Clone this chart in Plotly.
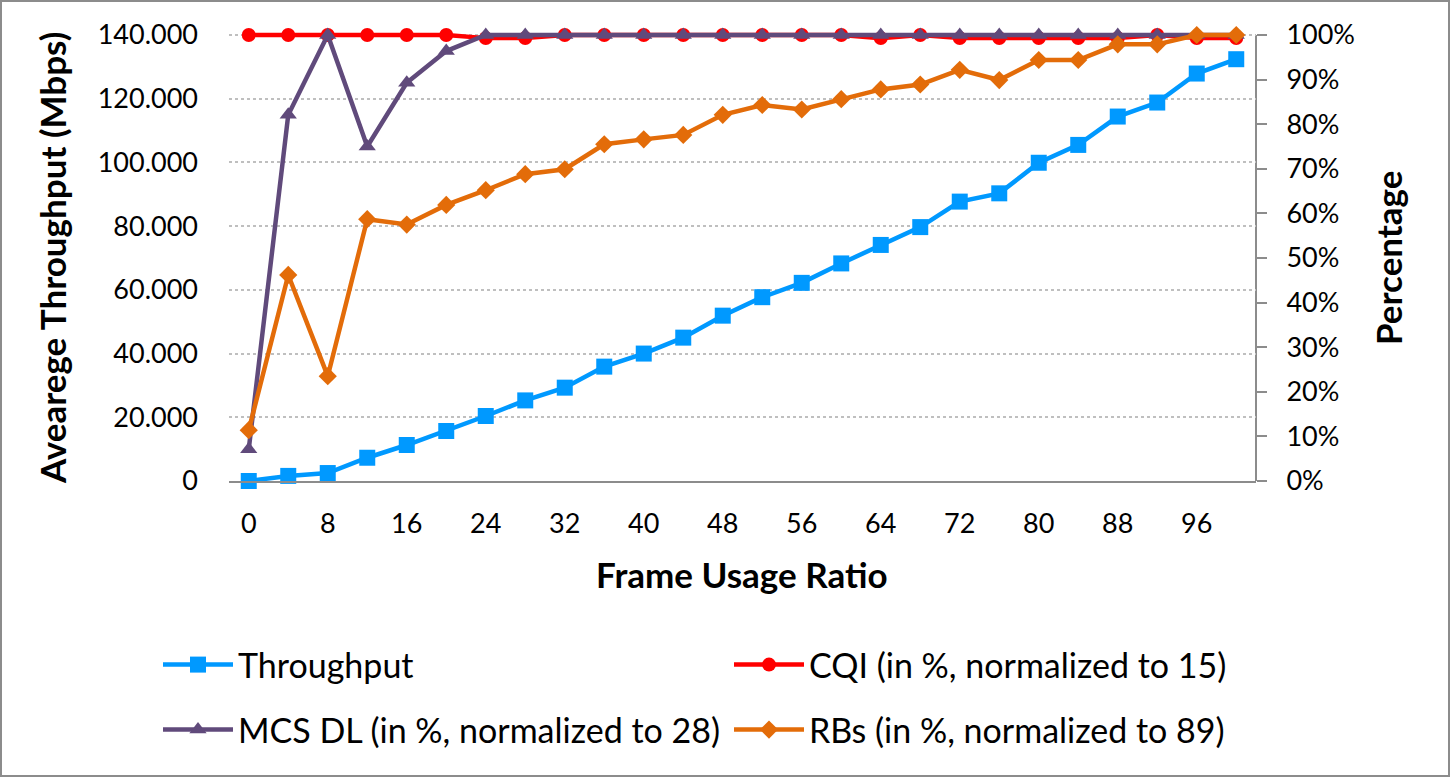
import plotly.graph_objects as go

frame_usage = [0, 4, 8, 12, 16, 20, 24, 28, 32, 36, 40, 44, 48, 52, 56, 60, 64, 68, 72, 76, 80, 84, 88, 92, 96, 100]
throughput = [0, 1.6, 2.5, 7.3, 11.3, 15.7, 20.4, 25.3, 29.3, 35.9, 40.0, 45.0, 51.9, 57.7, 62.2, 68.3,
              74.1, 79.7, 87.7, 90.3, 99.9, 105.5, 114.4, 118.8, 127.9, 132.4]
cqi_pct = [100, 100, 100, 100, 100, 100, 99.3, 99.3, 100, 100, 100, 100, 100, 100, 100, 100,
           99.3, 100, 99.3, 99.3, 99.3, 99.3, 99.3, 100, 99.3, 99.3]
mcs_pct = [7.1, 82.1, 100, 75.0, 89.3, 96.4, 100, 100, 100, 100, 100, 100, 100, 100, 100, 100,
           100, 100, 100, 100, 100, 100, 100, 100, 100, 100]
rbs_pct = [11.4, 46.2, 23.5, 58.7, 57.5, 61.9, 65.2, 68.8, 69.9, 75.5, 76.6, 77.6, 82.1, 84.3, 83.3, 85.6,
           87.8, 88.9, 92.2, 89.9, 94.4, 94.4, 97.9, 97.9, 100, 100]
y_ticks = [0, 20, 40, 60, 80, 100, 120, 140]
y_ticktext = ["0", "20.000", "40.000", "60.000", "80.000", "100.000", "120.000", "140.000"]
pct_ticks = [0, 10, 20, 30, 40, 50, 60, 70, 80, 90, 100]
pct_ticktext = ["0%", "10%", "20%", "30%", "40%", "50%", "60%", "70%", "80%", "90%", "100%"]

FONT = "Lato"
GRAY = "#8c8c8c"

fig = go.Figure()
fig.add_trace(go.Scatter(x=frame_usage, y=throughput, name="Throughput", mode="lines+markers",
                         line=dict(color="#0099FF", width=4.5),
                         marker=dict(symbol="square", size=16, color="#0099FF"),
                         yaxis="y", legend="legend", cliponaxis=False))
fig.add_trace(go.Scatter(x=frame_usage, y=cqi_pct, name="CQI (in %, normalized to 15)", mode="lines+markers",
                         line=dict(color="#FF0000", width=4.5),
                         marker=dict(symbol="circle", size=14, color="#FF0000"),
                         yaxis="y2", legend="legend", cliponaxis=False))
fig.add_trace(go.Scatter(x=frame_usage, y=mcs_pct, name="MCS DL (in %, normalized to 28)", mode="lines+markers",
                         line=dict(color="#604A7B", width=4.5),
                         marker=dict(symbol="triangle-up", size=15, color="#604A7B"),
                         yaxis="y2", legend="legend2", cliponaxis=False))
fig.add_trace(go.Scatter(x=frame_usage, y=rbs_pct, name="RBs (in %, normalized to 89)", mode="lines+markers",
                         line=dict(color="#E36C09", width=4.5),
                         marker=dict(symbol="diamond", size=14, color="#E36C09"),
                         yaxis="y2", legend="legend2", cliponaxis=False))

W, H = 1451, 778
L, R, B = 229, 1256, 481
T_DATA = 35          # pixel row of 140 / 100%
EXTRA = 9            # head-room above the top value so the lines are not clipped
T = T_DATA - EXTRA
pw, ph = R - L, B - T
scale = ph / (B - T_DATA)

def px(x):
    return (x - L) / pw

def py(y):
    return (B - y) / ph

leg_common = dict(orientation="h", xanchor="left", yanchor="middle",
                  entrywidth=486, entrywidthmode="pixels", itemwidth=70,
                  font=dict(family=FONT, size=34, color="black"),
                  bgcolor="rgba(0,0,0,0)", borderwidth=0)

fig.update_layout(
    width=W, height=H,
    margin=dict(l=L, r=W - R, t=T, b=H - B, autoexpand=False),
    paper_bgcolor="white", plot_bgcolor="white",
    font=dict(family=FONT, size=27, color="black"),
    showlegend=True,
    legend=dict(x=px(158), y=py(665), **leg_common),
    legend2=dict(x=px(158), y=py(730), **leg_common),
    xaxis=dict(range=[-2, 102], tick0=0, dtick=8, showgrid=False, zeroline=False,
               showline=True, linecolor=GRAY, linewidth=2, ticks="",
               tickfont=dict(family=FONT, size=27), ticklabelstandoff=18),
    yaxis=dict(range=[0, 140 * scale], tickvals=y_ticks, ticktext=y_ticktext, showgrid=True,
               gridcolor="#bfbfbf", griddash="dot", gridwidth=1.5, zeroline=False, showline=False,
               ticks="", tickfont=dict(family=FONT, size=27), ticklabelstandoff=30),
    yaxis2=dict(range=[0, 100 * scale], tickvals=pct_ticks, ticktext=pct_ticktext,
                overlaying="y", side="right",
                showgrid=False, zeroline=False, showline=False,
                ticks="outside", ticklen=10, tickcolor=GRAY, tickwidth=2,
                tickfont=dict(family=FONT, size=27), ticklabelstandoff=14),
)

# right axis line (0%..100% only)
fig.add_shape(type="line", xref="paper", yref="y2", x0=1, x1=1, y0=0, y1=100,
              line=dict(color=GRAY, width=2), layer="below")

fig.add_annotation(text="<b>Avearege Throughput (Mbps)</b>", xref="paper", yref="paper",
                   x=px(52), y=py(258), xanchor="center", yanchor="middle", textangle=-90, showarrow=False,
                   font=dict(family=FONT, size=35, color="black"))
fig.add_annotation(text="<b>Percentage</b>", xref="paper", yref="paper",
                   x=px(1388), y=py(258), xanchor="center", yanchor="middle", textangle=-90, showarrow=False,
                   font=dict(family=FONT, size=35, color="black"))
fig.add_annotation(text="<b>Frame Usage Ratio</b>", xref="paper", yref="paper",
                   x=px(742), y=py(574), xanchor="center", yanchor="middle", showarrow=False,
                   font=dict(family=FONT, size=35, color="black"))

fig.add_shape(type="rect", xref="paper", yref="paper",
              x0=px(1), x1=px(1449), y0=py(776), y1=py(1),
              line=dict(color=GRAY, width=2), fillcolor="rgba(0,0,0,0)", layer="below")

fig.write_html("out.html")
